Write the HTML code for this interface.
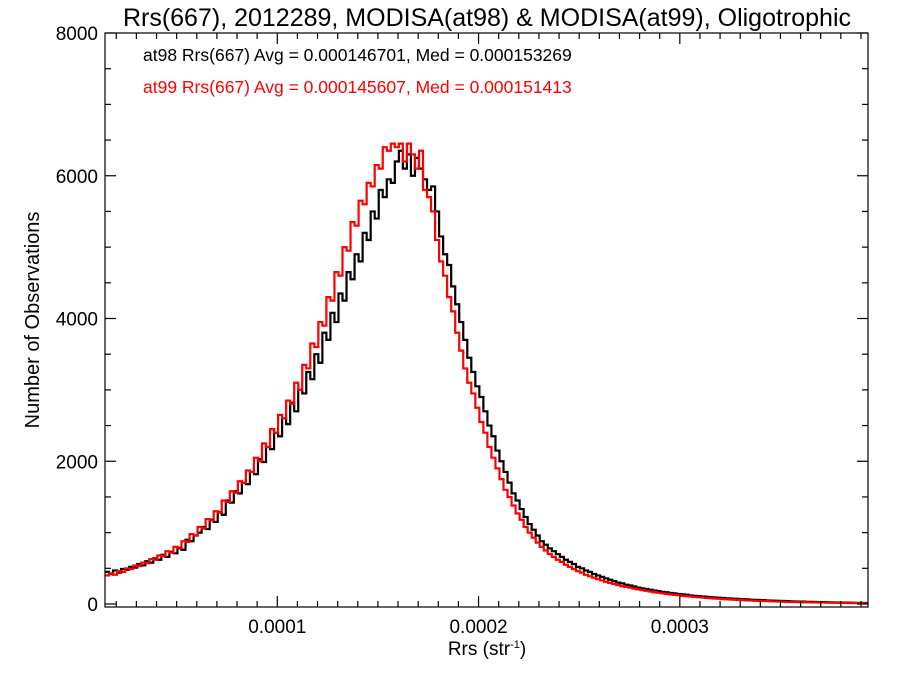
<!DOCTYPE html>
<html><head><meta charset="utf-8"><style>
body{margin:0;background:#fff}
svg{display:block;font-family:"Liberation Sans",Arial,sans-serif}
</style></head><body>
<svg id="chart" width="900" height="675" viewBox="0 0 900 675">
<rect x="0" y="0" width="900" height="675" fill="#fff"/>
<text x="487" y="26" font-size="25" text-anchor="middle">Rrs(667), 2012289, MODISA(at98) &amp; MODISA(at99), Oligotrophic</text>
<g id="marks"></g>
<g id="axes"></g>
<text x="143" y="61" font-size="17.5" fill="#000">at98 Rrs(667) Avg = 0.000146701, Med = 0.000153269</text>
<text x="143" y="93" font-size="17.5" fill="#ff0000">at99 Rrs(667) Avg = 0.000145607, Med = 0.000151413</text>
<text x="487" y="655" font-size="19" text-anchor="middle">Rrs (str<tspan font-size="11" dy="-7">-1</tspan><tspan dy="7">)</tspan></text>
<text transform="translate(39,320) rotate(-90)" font-size="20" text-anchor="middle">Number of Observations</text>
</svg>
<script>
const binStart = 0.0000144;
const binWidth = 0.000002;
const at98Counts = [
450,420,470,440,490,480,520,510,560,540,
600,580,640,620,690,660,730,710,780,760,
900,880,960,1000,1080,1050,1180,1150,1290,1250,
1450,1420,1580,1550,1700,1680,1850,1820,2030,1990,
2200,2170,2400,2350,2600,2520,2820,2700,3000,2950,
3250,3150,3500,3380,3800,3700,4080,3950,4350,4250,
4650,4550,4900,4800,5200,5100,5500,5400,5800,5700,
5950,5900,6200,6350,6100,6300,6000,6250,6100,5950,
5800,5850,5500,5150,4900,4750,4450,4200,3950,3700,
3450,3250,3050,2900,2700,2500,2350,2150,2000,1850,
1700,1550,1450,1330,1220,1120,1040,960,880,830,
780,740,700,660,620,590,560,520,500,470,
450,420,400,380,360,340,320,300,290,270,
260,245,230,220,210,200,190,180,170,165,
155,150,140,135,130,120,115,110,105,100,
95,92,88,85,80,78,74,70,68,65,
60,58,56,54,50,48,46,44,42,40,
38,36,34,33,31,30,28,27,26,25,
24,22,21,20,19,18,17,16,15,14];
const at99Counts = [
400,430,410,460,450,500,490,540,530,580,
570,630,620,680,670,740,720,800,790,880,
870,980,960,1080,1060,1190,1170,1300,1280,1450,
1430,1580,1560,1720,1700,1870,1850,2050,2000,2250,
2200,2450,2400,2650,2600,2850,2800,3100,3000,3350,
3300,3650,3600,3950,3900,4300,4250,4650,4600,5000,
4950,5350,5300,5650,5600,5900,5850,6150,6100,6400,
6350,6450,6400,6450,6200,6450,6300,6100,6350,5800,
5700,5500,5100,4800,4600,4300,4100,3800,3550,3300,
3100,2950,2750,2550,2400,2200,2050,1900,1750,1600,
1500,1380,1270,1180,1080,1000,930,860,800,750,
700,660,620,590,550,520,490,460,440,410,
390,370,350,330,310,295,280,265,250,240,
230,215,205,195,185,175,165,158,150,142,
135,128,122,116,110,104,99,94,90,85,
80,77,73,70,66,63,60,57,54,51,
48,46,44,42,40,38,36,34,32,30,
29,28,26,25,24,23,22,21,20,19,
18,17,16,15,14,13,12,11,10,9];
const xTickValues = [0.0001, 0.0002, 0.0003];
const xTickLabels = ["0.0001", "0.0002", "0.0003"];
const yTickValues = [0, 2000, 4000, 6000, 8000];
const yTickLabels = ["0", "2000", "4000", "6000", "8000"];

const L = 105, R = 868, T = 33, B = 607;
const xMin = 0.0000144, xMax = 0.0003935;
const yMin = -42, yMax = 8000;
const xs = v => L + (v - xMin) / (xMax - xMin) * (R - L);
const ys = v => B - (v - yMin) / (yMax - yMin) * (B - T);
const NS = "http://www.w3.org/2000/svg";
const marks = document.getElementById('marks');
const axes = document.getElementById('axes');

function stepPath(arr) {
  let d = '';
  arr.forEach((v, i) => {
    const x0 = xs(binStart + i * binWidth), x1 = xs(binStart + (i + 1) * binWidth);
    const y = ys(v);
    d += (i === 0 ? 'M' : 'L') + x0.toFixed(2) + ',' + y.toFixed(2) + 'L' + Math.min(x1, R).toFixed(2) + ',' + y.toFixed(2);
  });
  return d;
}
const p1 = document.createElementNS(NS, 'path');
p1.setAttribute('d', stepPath(at98Counts));
p1.setAttribute('fill', 'none'); p1.setAttribute('stroke', '#000'); p1.setAttribute('stroke-width', '2.2');


marks.appendChild(p1);
const p2 = document.createElementNS(NS, 'path');
p2.setAttribute('d', stepPath(at99Counts));
p2.setAttribute('fill', 'none'); p2.setAttribute('stroke', '#ff0000'); p2.setAttribute('stroke-width', '2.2');


marks.appendChild(p2);

function line(x1, y1, x2, y2, name) {
  const l = document.createElementNS(NS, 'line');
  l.setAttribute('x1', x1); l.setAttribute('y1', y1); l.setAttribute('x2', x2); l.setAttribute('y2', y2);
  l.setAttribute('stroke', '#000'); l.setAttribute('stroke-width', '1.2');
  
  
  axes.appendChild(l);
}
function text(x, y, s, anchor, name) {
  const t = document.createElementNS(NS, 'text');
  t.setAttribute('x', x); t.setAttribute('y', y); t.setAttribute('font-size', '19');
  t.setAttribute('text-anchor', anchor); t.textContent = s;
  
  
  axes.appendChild(t);
}
const frame = document.createElementNS(NS, 'rect');
frame.setAttribute('x', L); frame.setAttribute('y', T); frame.setAttribute('width', R - L); frame.setAttribute('height', B - T);
frame.setAttribute('fill', 'none'); frame.setAttribute('stroke', '#000'); frame.setAttribute('stroke-width', '1.2');


axes.appendChild(frame);

for (let k = 2; k <= 39; k++) {
  const v = k * 0.00001;
  const x = xs(v);
  if (x <= L || x >= R) continue;
  const major = k % 10 === 0;
  const len = major ? 11 : 6;
  line(x, B, x, B - len, 'x-tick');
  line(x, T, x, T + len, 'x-tick-top');
}
xTickValues.forEach((v, i) => text(xs(v), B + 26, xTickLabels[i], 'middle', 'x-tick-label'));
for (let v = 0; v <= 8000; v += 500) {
  const y = ys(v);
  const major = v % 2000 === 0;
  const len = major ? 11 : 6;
  line(L, y, L + len, y, 'y-tick');
  line(R, y, R - len, y, 'y-tick-right');
}
yTickValues.forEach((v, i) => text(L - 7, ys(v) + 7, yTickLabels[i], 'end', 'y-tick-label'));
</script>
</body></html>
